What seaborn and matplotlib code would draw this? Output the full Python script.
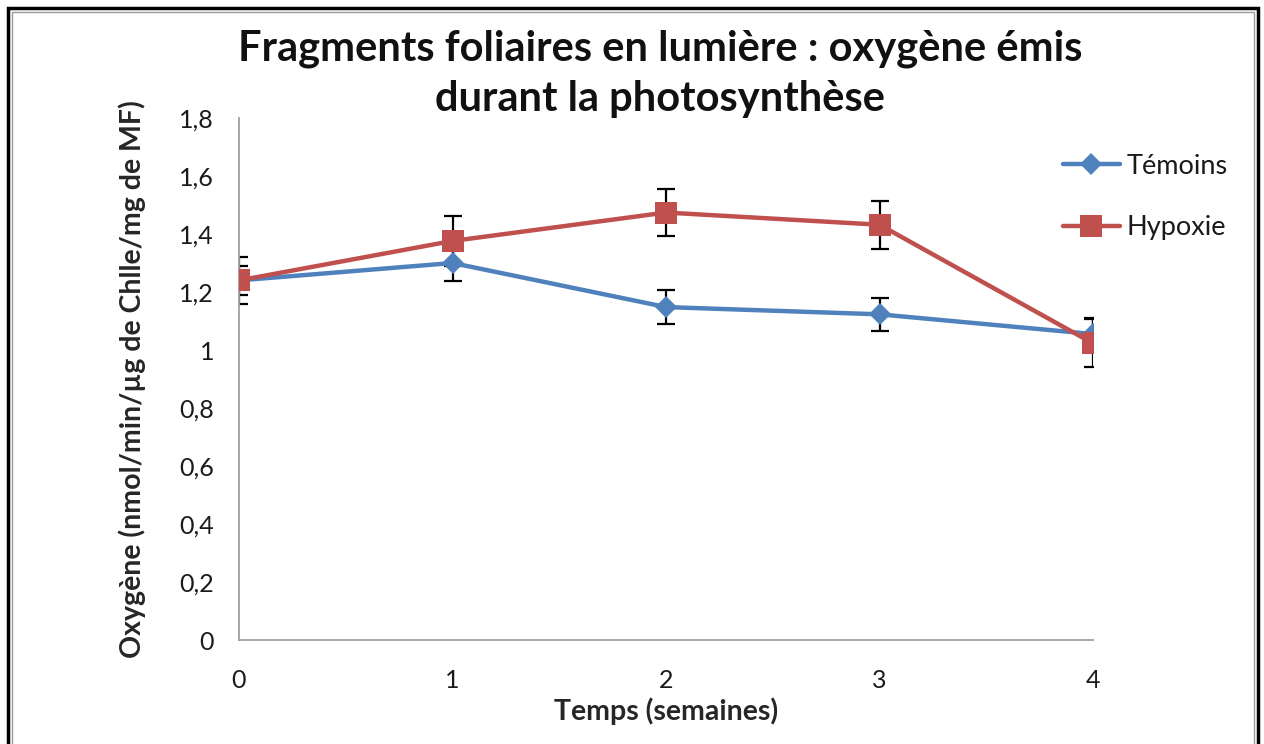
import matplotlib
matplotlib.use("Agg")
import matplotlib.pyplot as plt
from matplotlib.patches import Rectangle
import seaborn as sns
import pandas as pd

# Weeks of treatment and oxygen released (nmol/min/µg Chl/mg FW)
semaines = [0, 1, 2, 3, 4]
temoins = [1.24, 1.30, 1.148, 1.123, 1.055]
temoins_err = [0.05, 0.062, 0.058, 0.057, 0.055]
hypoxie = [1.24, 1.376, 1.474, 1.432, 1.023]
hypoxie_err = [0.08, 0.086, 0.08, 0.082, 0.083]
y_ticks = [0, 0.2, 0.4, 0.6, 0.8, 1.0, 1.2, 1.4, 1.6, 1.8]

bleu = "#4F81BD"
rouge = "#C0504D"

sns.set_theme(style="white")
plt.rcParams["font.family"] = ["Lato", "DejaVu Sans"]

df = pd.DataFrame({
    "semaine": semaines * 2,
    "oxygene": temoins + hypoxie,
    "erreur": temoins_err + hypoxie_err,
    "groupe": ["Témoins"] * 5 + ["Hypoxie"] * 5,
})

fig = plt.figure(figsize=(12.64, 7.44), dpi=100)
ax = fig.add_axes([239 / 1264, 1 - 640 / 744, (1093 - 239) / 1264, (640 - 118) / 744])

# error bars underneath the series
for g in ["Témoins", "Hypoxie"]:
    sub = df[df.groupe == g]
    ax.errorbar(sub.semaine, sub.oxygene, yerr=sub.erreur, fmt="none",
                ecolor="black", elinewidth=1.6, capsize=6.5, capthick=1.6, zorder=2)

sns.lineplot(data=df[df.groupe == "Témoins"], x="semaine", y="oxygene", ax=ax,
             color=bleu, linewidth=3.2, marker="D", markersize=11.5,
             markeredgewidth=0, label="Témoins", zorder=3)
sns.lineplot(data=df[df.groupe == "Hypoxie"], x="semaine", y="oxygene", ax=ax,
             color=rouge, linewidth=3.2, marker="s", markersize=15.5,
             markeredgewidth=0, label="Hypoxie", zorder=4)

ax.set_xlim(0, 4)
ax.set_ylim(0, 1.8)
ax.set_xticks(semaines)
ax.set_xticklabels([str(s) for s in semaines])
ax.set_yticks(y_ticks)
ax.set_yticklabels([("%.1f" % v).replace(".", ",").replace(",0", "") if v in (0, 1.0)
                    else ("%.1f" % v).replace(".", ",") for v in y_ticks])

for side in ["top", "right"]:
    ax.spines[side].set_visible(False)
for side in ["left", "bottom"]:
    ax.spines[side].set_color("#A0A0A0")
    ax.spines[side].set_linewidth(1.3)
ax.tick_params(axis="both", direction="out", length=8, width=1.3, color="#A0A0A0",
               labelsize=18, labelcolor="#1a1a1a")
ax.tick_params(axis="y", pad=10)
ax.tick_params(axis="x", pad=13)

ax.set_xlabel("Temps (semaines)", fontsize=20.5, fontweight="bold", labelpad=4)
ax.set_ylabel("Oxygène (nmol/min/µg de Chlle/mg de MF)", fontsize=20.5,
              fontweight="bold", labelpad=24)

fig.text(0.522, 1 - 74 / 744, "Fragments foliaires en lumière : oxygène émis\ndurant la photosynthèse",
         ha="center", va="center", fontsize=30, fontweight="bold", linespacing=1.38,
         color="#111111")

leg = ax.legend(loc="upper left", bbox_to_anchor=(1052 / 1264, 1 - 143 / 744),
                bbox_transform=fig.transFigure, frameon=False, fontsize=19.5,
                handlelength=2.1, handletextpad=0.25, labelspacing=1.35, borderaxespad=0)
for t in leg.get_texts():
    t.set_color("#1a1a1a")

# chart border
fig.patches.append(Rectangle((8 / 1264, -0.01), (1258 - 8) / 1264, 1 - 8 / 744 + 0.01,
                             transform=fig.transFigure, fill=False,
                             edgecolor="black", linewidth=2.5))
fig.patches.append(Rectangle((12 / 1264, -0.01), (1254 - 12) / 1264, 1 - 12 / 744 + 0.01,
                             transform=fig.transFigure, fill=False,
                             edgecolor="#9a9a9a", linewidth=1))

fig.savefig("out.png", dpi=100)
